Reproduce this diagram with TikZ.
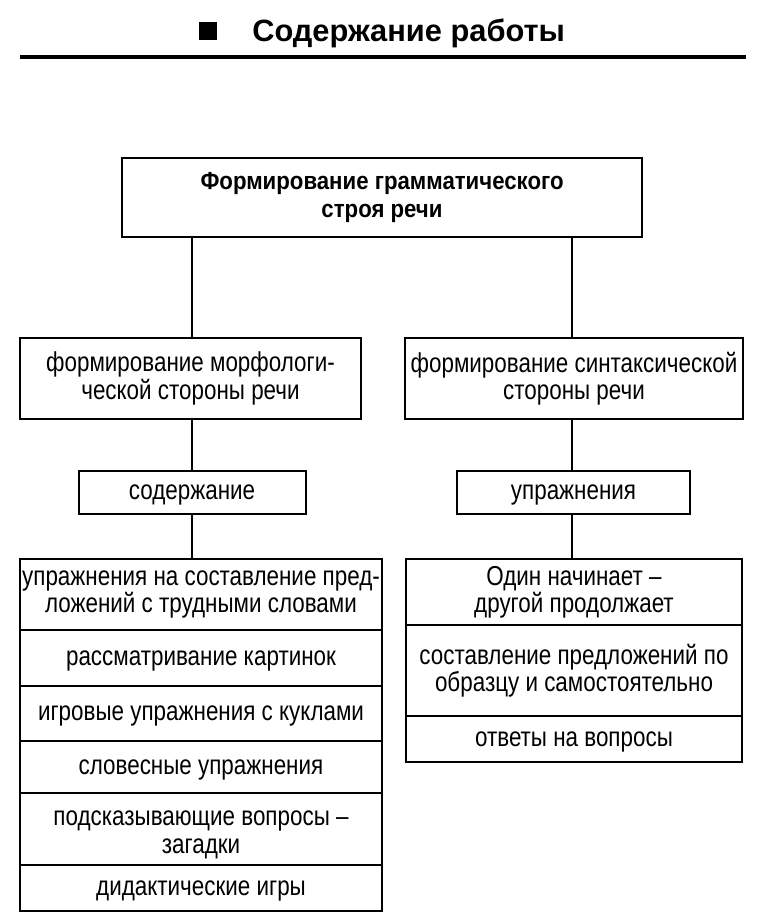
\documentclass[tikz,border=0pt]{standalone}
\usepackage{fontspec}
\setmainfont{Liberation Sans}
\newfontfamily\condfont[FakeStretch=0.82]{Liberation Sans}
\newfontfamily\boldcond[FakeStretch=0.9]{Liberation Sans Bold}
\tikzset{
  bx/.style={draw, line width=1.5pt, rectangle, inner sep=0pt, align=center,
    font=\condfont\fontsize{20.5}{20.5}\selectfont},
  txt/.style={inner sep=0pt, align=center, font=\condfont\fontsize{20.5}{20.5}\selectfont},
  one/.style={text height=15pt, text depth=4.5pt},
  wh/.style 2 args={minimum width=#1*0.75pt, minimum height=#2*0.75pt},
  conn/.style={line width=1.5pt},
}
\begin{document}
\begin{tikzpicture}[x=0.75pt,y=-0.75pt]
\useasboundingbox (0,0) rectangle (768,924);
% title
\node[fill=black, minimum width=18*0.75pt, minimum height=18*0.75pt, inner sep=0pt] (sq) at (208,31) {};
\node[anchor=base west, inner sep=0pt, font=\bfseries\fontsize{23.1}{24}\selectfont] (title) at (252,42) {Содержание работы};
\coordinate (rl) at (20,57);
\coordinate (rr) at (746,57);
\draw[line width=3.5pt] (rl) -- (rr);
% boxes
\node[bx, wh={520}{79}, font=\boldcond\fontsize{18.5}{20.5}\selectfont] (top) at (382,197.5) {Формирование грамматического\\строя речи};
\node[bx, wh={341}{81}] (L1) at (190.5,378.5) {формирование морфологи-\\ческой стороны речи};
\node[bx, wh={338}{81}] (R1) at (574,378.5) {формирование синтаксической\\стороны речи};
\node[bx, one, wh={227}{43}] (L2) at (192,492.5) {содержание};
\node[bx, one, wh={233}{43}] (R2) at (573.5,492) {упражнения};
% left list
\node[bx, wh={362}{71}] (a1) at (201,594.5) {упражнения на составление пред-\\ложений с трудными словами};
\node[bx, one, wh={362}{56}] (a2) at (201,658) {рассматривание картинок};
\node[bx, one, wh={362}{55}] (a3) at (201,713.5) {игровые упражнения с куклами};
\node[bx, one, wh={362}{52}] (a4) at (201,767) {словесные упражнения};
\node[bx, wh={362}{72}] (a5) at (201,829) {};
\node[txt] (a5t) at (201,835) {подсказывающие вопросы –\\загадки};
\node[bx, one, wh={362}{46}] (a6) at (201,888) {дидактические игры};
% right list
\node[bx, wh={336}{66}] (b1) at (574,592) {Один начинает –\\другой продолжает};
\node[bx, wh={336}{91}] (b2) at (574,670.5) {составление предложений по\\образцу и самостоятельно};
\node[bx, one, wh={336}{46}] (b3) at (574,739) {ответы на вопросы};
% connectors
\coordinate (lx) at (192,0);
\coordinate (rx) at (572,0);
\draw[conn] (top.south -| lx) -- (L1.north -| lx);
\draw[conn] (top.south -| rx) -- (R1.north -| rx);
\draw[conn] (L1.south -| lx) -- (L2.north -| lx);
\draw[conn] (R1.south -| rx) -- (R2.north -| rx);
\draw[conn] (L2.south -| lx) -- (a1.north -| lx);
\draw[conn] (R2.south -| rx) -- (b1.north -| rx);
\end{tikzpicture}
\end{document}
